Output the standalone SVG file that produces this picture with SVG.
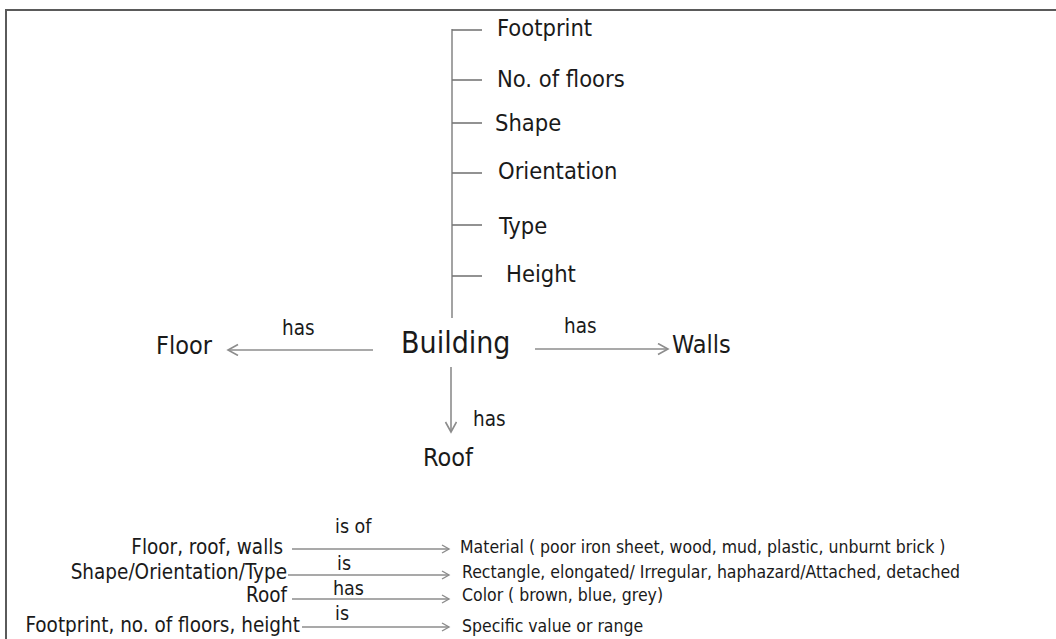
<svg xmlns="http://www.w3.org/2000/svg" width="1056" height="639" viewBox="0 0 1056 639">
<style>
text{font-family:"DejaVu Sans Condensed","DejaVu Sans","Liberation Sans",sans-serif;fill:#1a1a1a}
.t{font-size:23.5px}
.n{font-size:25px}
.b{font-size:30px}
.l{font-size:20.5px}
.g{font-size:17.5px}
.gk{font-size:20.5px}
.gl{font-size:19.5px}
.ln{stroke:#8c8c8c;stroke-width:1.6;fill:none}
.tk{stroke:#777;stroke-width:1.6;fill:none}
.ar{marker-end:url(#ah)}
.ars{marker-end:url(#ahs)}
</style>
<defs>
<marker id="ah" markerUnits="userSpaceOnUse" markerWidth="14" markerHeight="14" refX="11" refY="6" orient="auto">
<path d="M1,0.5 L11,6 L1,11.5" fill="none" stroke="#8c8c8c" stroke-width="1.6"/>
</marker>
<marker id="ahs" markerUnits="userSpaceOnUse" markerWidth="12" markerHeight="12" refX="8" refY="5" orient="auto">
<path d="M1,1 L8,5 L1,9" fill="none" stroke="#8c8c8c" stroke-width="1.4"/>
</marker>
</defs>
<rect width="1056" height="639" fill="#fff"/>
<g id="frame" stroke="#5a5a5a" stroke-width="2" fill="none">
<path d="M6,639 V10 H1056"/>
</g>
<g id="connectors">
<path class="ln" d="M452,29 V318"/>
<path class="tk" d="M452,30 H482"/>
<path class="tk" d="M452,80 H482"/>
<path class="tk" d="M452,123 H482"/>
<path class="tk" d="M452,173 H482"/>
<path class="tk" d="M452,225 H482"/>
<path class="tk" d="M452,276 H482"/>
<path class="ln ar" d="M373,350 H228"/>
<path class="ln ar" d="M535,349 H668"/>
<path class="ln ar" d="M451,367 V432"/>
<path class="ln ars" d="M292,549 H449"/>
<path class="ln ars" d="M288,575 H449"/>
<path class="ln ars" d="M292,599 H449"/>
<path class="ln ars" d="M302,627 H449"/>
</g>
<g id="attributes">
<text class="t" x="497" y="36">Footprint</text>
<text class="t" x="497" y="87">No. of floors</text>
<text class="t" x="495" y="131">Shape</text>
<text class="t" x="498" y="179">Orientation</text>
<text class="t" x="499" y="234">Type</text>
<text class="t" x="506" y="282">Height</text>
</g>
<g id="building"><text class="b" x="401" y="353">Building</text></g>
<g id="floor"><text class="n" x="156" y="354">Floor</text></g>
<g id="walls"><text class="n" x="672" y="353">Walls</text></g>
<g id="roof"><text class="n" x="423" y="466">Roof</text></g>
<g id="labels">
<text class="l" x="282" y="335">has</text>
<text class="l" x="564" y="333">has</text>
<text class="l" x="473" y="426">has</text>
</g>
<g id="legend">
<text class="gk" x="283" y="554" text-anchor="end">Floor, roof, walls</text>
<text class="gk" x="287" y="579" text-anchor="end">Shape/Orientation/Type</text>
<text class="gk" x="287" y="602" text-anchor="end">Roof</text>
<text class="gk" x="300" y="632" text-anchor="end">Footprint, no. of floors, height</text>
<text class="gl" x="335" y="533">is of</text>
<text class="gl" x="337" y="570">is</text>
<text class="gl" x="333" y="595">has</text>
<text class="gl" x="335" y="620">is</text>
<text class="g" x="460" y="553">Material ( poor iron sheet, wood, mud, plastic, unburnt brick )</text>
<text class="g" x="462" y="578">Rectangle, elongated/ Irregular, haphazard/Attached, detached</text>
<text class="g" x="462" y="601">Color ( brown, blue, grey)</text>
<text class="g" x="462" y="632">Specific value or range</text>
</g>
</svg>
